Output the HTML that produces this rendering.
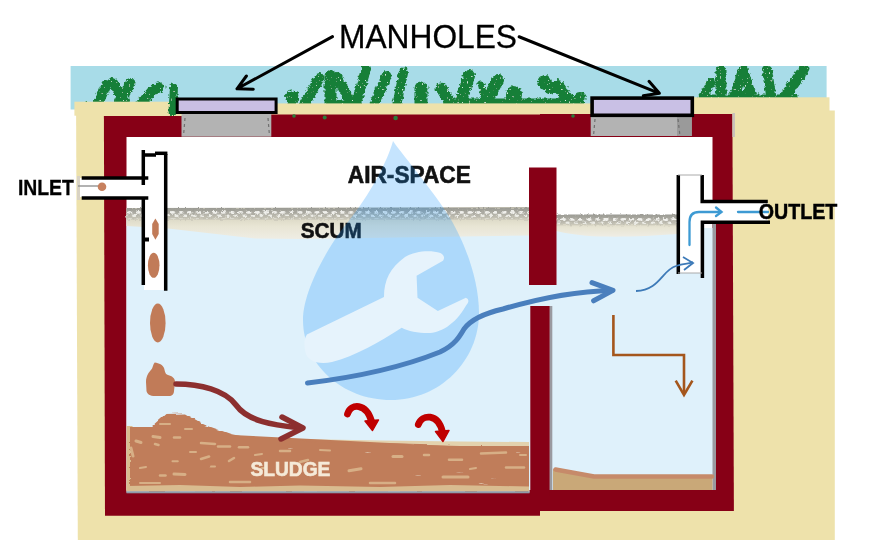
<!DOCTYPE html>
<html><head><meta charset="utf-8">
<style>
html,body{margin:0;padding:0;background:#fff;width:893px;height:540px;overflow:hidden}
svg{display:block;filter:blur(0.35px)}
text{font-family:"Liberation Sans",sans-serif}
</style></head><body>
<svg width="893" height="540" viewBox="0 0 893 540">
<defs>
<linearGradient id="scumL" x1="0" y1="0" x2="0" y2="1">
<stop offset="0" stop-color="#b8b6aa"/>
<stop offset="0.3" stop-color="#d9d6c3"/>
<stop offset="0.6" stop-color="#e8e5d4"/>
<stop offset="1" stop-color="#efede4"/>
</linearGradient>
<linearGradient id="scumband" x1="0" y1="0" x2="0" y2="1">
<stop offset="0" stop-color="#9c9c96"/>
<stop offset="0.6" stop-color="#a9a8a0"/>
<stop offset="1" stop-color="#bdbbb0"/>
</linearGradient>
<pattern id="ovals" width="8.5" height="7" patternUnits="userSpaceOnUse" x="0" y="211">
<ellipse cx="2.5" cy="1.4" rx="2.6" ry="1.35" fill="#f0f0ec"/>
<ellipse cx="6.8" cy="4.8" rx="2.4" ry="1.3" fill="#ecece6"/>
</pattern>
<linearGradient id="scumband2" x1="0" y1="0" x2="0" y2="1">
<stop offset="0" stop-color="#9a9a93"/>
<stop offset="0.35" stop-color="#aaa9a1"/>
<stop offset="0.75" stop-color="#bebcb0"/>
<stop offset="1" stop-color="#d3d0c0"/>
</linearGradient>
<pattern id="speck" width="7" height="6" patternUnits="userSpaceOnUse">
<circle cx="1.5" cy="1.5" r="0.9" fill="#b8e0c4"/>
<circle cx="5" cy="4.2" r="0.8" fill="#b8e0c4"/>
</pattern>
<pattern id="scumtex" width="9" height="6" patternUnits="userSpaceOnUse">
<ellipse cx="2.5" cy="2" rx="2" ry="1" fill="#f2f2ee"/>
<ellipse cx="7" cy="4.5" rx="1.8" ry="0.9" fill="#eeeeea"/>
</pattern>
<filter id="gfx" filterUnits="userSpaceOnUse" x="60" y="55" width="780" height="70">
<feTurbulence type="fractalNoise" baseFrequency="0.35" numOctaves="2" seed="4" result="n"/>
<feDisplacementMap in="SourceGraphic" in2="n" scale="5" xChannelSelector="R" yChannelSelector="G" result="d"/>
<feTurbulence type="fractalNoise" baseFrequency="0.55" numOctaves="1" seed="9" result="n2"/>
<feColorMatrix in="n2" type="matrix" values="0 0 0 0 0.68  0 0 0 0 0.86  0 0 0 0 0.74  12 0 0 0 -8.2" result="spots"/>
<feComposite in="spots" in2="d" operator="in" result="s2"/>
<feMerge><feMergeNode in="d"/><feMergeNode in="s2"/></feMerge>
</filter>
<filter id="scumfx" x="0" y="-20%" width="100%" height="140%">
<feTurbulence type="fractalNoise" baseFrequency="0.35 0.6" numOctaves="1" seed="2" result="n"/>
<feDisplacementMap in="SourceGraphic" in2="n" scale="3" xChannelSelector="R" yChannelSelector="G" result="d"/>
<feColorMatrix in="n" type="matrix" values="0 0 0 0 0.95  0 0 0 0 0.95  0 0 0 0 0.93  9 0 0 0 -5.2" result="spots"/>
<feComposite in="spots" in2="d" operator="in" result="s2"/>
<feMerge result="m"><feMergeNode in="d"/><feMergeNode in="s2"/></feMerge>
<feGaussianBlur in="m" stdDeviation="0.5"/>
</filter>
<filter id="sludgefx" x="-2%" y="-5%" width="104%" height="110%">
<feTurbulence type="fractalNoise" baseFrequency="0.04 0.35" numOctaves="2" seed="7" result="n"/>
<feDisplacementMap in="SourceGraphic" in2="n" scale="4" xChannelSelector="R" yChannelSelector="G" result="d"/>
<feColorMatrix in="n" type="matrix" values="0 0 0 0 0.89  0 0 0 0 0.78  0 0 0 0 0.6  12 0 0 0 -9.3" result="spots"/>
<feComposite in="spots" in2="d" operator="in" result="s2"/>
<feMerge><feMergeNode in="d"/><feMergeNode in="s2"/></feMerge>
</filter>
<clipPath id="chL"><rect x="126.5" y="137" width="402.5" height="355"/></clipPath>
<clipPath id="skyclip"><rect x="70" y="66" width="757" height="60"/></clipPath>
<filter id="scumfx2" filterUnits="userSpaceOnUse" x="120" y="200" width="570" height="35">
<feTurbulence type="fractalNoise" baseFrequency="0.4 0.5" numOctaves="2" seed="5" result="n"/>
<feDisplacementMap in="SourceGraphic" in2="n" scale="3.5" xChannelSelector="R" yChannelSelector="G" result="d"/>
<feGaussianBlur in="d" stdDeviation="0.45"/>
</filter>
</defs>
<!-- sky -->
<rect x="70.6" y="66" width="756" height="43.5" fill="#a8dce8"/>
<g id="grass">
<g id="gr" fill="none" stroke-linecap="round" stroke-linejoin="round">
<path d="M98 104 L106 85" stroke-width="10"/>
<path d="M113 83 L122 98 L130.5 83" stroke-width="10"/>
<path d="M118 101 L126 101" stroke-width="8"/>
<path d="M141 104 L152 91 L159.5 87" stroke-width="10"/>
<path d="M87 104 L88 104" stroke-width="4"/>
<path d="M291.5 97 L292 97" stroke-width="13"/>
<path d="M291.5 104 L292 104" stroke-width="10"/>
<path d="M304.5 104 L319.5 78" stroke-width="10"/>
<path d="M330.5 104 L330.5 76" stroke-width="12"/>
<path d="M337 77 L349 99" stroke-width="10"/>
<path d="M356 104 L366 69" stroke-width="10"/>
<path d="M338 104 L356 104" stroke-width="7"/>
<path d="M374.5 104 L386.5 76" stroke-width="10"/>
<path d="M397 104 L403.5 72" stroke-width="9"/>
<path d="M421 104 L421 88" stroke-width="13"/>
<path d="M441 88 L451 104" stroke-width="11"/>
<path d="M460 104 L469 76" stroke-width="12"/>
<path d="M485 104 L498 80" stroke-width="12"/>
<path d="M481 84 L485 100" stroke-width="7"/>
<path d="M462 102 L571 102" stroke-width="7"/>
<path d="M514 95 L514 94" stroke-width="16"/>
<path d="M544.5 82 L545 82.5" stroke-width="14"/>
<path d="M550 88 L558 86 L569 101" stroke-width="12"/>
<path d="M579.6 98 L579.7 98" stroke-width="12"/>
<path d="M579.6 103 L579.7 103" stroke-width="9"/>
<path d="M702 98 L711 82.5" stroke-width="9"/>
<path d="M721 71 L721 98" stroke-width="11"/>
<path d="M734 98 L743 70 L752 98" stroke-width="10"/>
<path d="M738 95 L748 95" stroke-width="8"/>
<path d="M767 70 L771.5 98" stroke-width="10"/>
<path d="M784 98 L804 69" stroke-width="11"/>
<path d="M700 97 L795 97" stroke-width="5"/>
</g>
</g>
<g clip-path="url(#skyclip)"><g filter="url(#gfx)"><use href="#gr" stroke="#197f38"/></g></g>
<!-- tan ground -->
<rect x="74.4" y="101.7" width="120" height="14" fill="#eee2ab"/>
<path d="M76.1 110.5 L834.8 110.5 L834.8 540 L77.8 540 Z" fill="#eee2ab"/>
<rect x="260" y="103.4" width="340" height="12" fill="#eee2ab"/>
<rect x="690" y="97.3" width="139.5" height="14" fill="#eee2ab"/>
<g filter="url(#gfx)"><path d="M174 87 L172.5 112" stroke-width="8" stroke="#197f38" fill="none" stroke-linecap="round"/></g>
<!-- red walls -->
<path d="M103.9 116 L540 116 L540 515.8 L105 515.8 Z" fill="#870016"/>
<path d="M540 114 L732.4 114 L733.9 511 L540 511 Z" fill="#870016"/>
<rect x="270" y="114.5" width="330" height="3" fill="#870016"/>
<g fill="#2a7d3a"><circle cx="294" cy="116" r="1.8"/><circle cx="324.7" cy="117.5" r="2"/><circle cx="395.6" cy="118" r="2.3"/><circle cx="573" cy="116" r="1.8"/><circle cx="210" cy="116" r="1.5"/></g>
<!-- interior air -->
<rect x="126.5" y="137" width="586" height="353" fill="#ffffff"/>
<!-- left chamber water -->
<rect x="126.5" y="215" width="403" height="277.5" fill="#dff1fb"/>
<!-- right chamber water -->
<rect x="529" y="228" width="186" height="262" fill="#dff1fb"/>
<!-- scum left -->
<path d="M126.5 208 L529 207 L529 235.5 L300 239 L255 238.5 L168 228.5 L126.5 226 Z" fill="url(#scumL)"/>
<g filter="url(#scumfx2)"><rect x="126.5" y="208" width="402.5" height="12" fill="url(#scumband2)"/>
<rect x="126.5" y="210.5" width="402.5" height="8" fill="url(#ovals)"/></g>
<!-- scum right -->
<path d="M556 215 L678 215 L678 234 C650 236 630 237 600 236.5 C580 236 565 233 556 231 Z" fill="url(#scumL)"/>
<g filter="url(#scumfx2)"><rect x="556" y="214.5" width="122" height="11" fill="url(#scumband2)"/>
<rect x="556" y="217" width="122" height="7.5" fill="url(#ovals)"/></g>
<!-- drop -->
<!-- partition -->
<rect x="529" y="167.5" width="27.5" height="117.5" fill="#870016"/>
<rect x="530.3" y="306" width="19.5" height="190" fill="#870016"/>
<rect x="549.8" y="306" width="2.5" height="184" fill="#9a9aa0"/>
<rect x="712.5" y="222" width="3.5" height="268" fill="#9a9aa0"/>
<!-- sludge left -->
<rect x="126.5" y="426" width="6" height="65" fill="#d9bc90"/>
<path d="M240 437 L300 439 L380 440.5 L460 441.5 L529 442 L529 452 L240 452 Z" fill="#e3d2ae"/>
<path d="M133 430 L529 450 L529 488 L133 488 Z" fill="#c07d5a"/>
<g clip-path="url(#chL)"><path d="M130 426 L151 427 L165.5 414 L185 413.5 L204 424.4 L230.6 434 L248 437.6 L300 441 L380 444 L460 446 L532 446 L532 491.3 L130 491.3 Z" fill="#c07d5a" filter="url(#sludgefx)"/></g>
<g stroke="#dcb88e" stroke-linecap="round" fill="none" clip-path="url(#chL)" opacity="0.85">
<path d="M153 436.5 L160 437.5" stroke-width="3"/>
<path d="M174 437.6 L180 437.6" stroke-width="2.5"/>
<path d="M201 443 L215 444" stroke-width="2.5"/>
<path d="M218 446.4 L230 446.4" stroke-width="2.5"/>
<path d="M239 447.3 L248 447.3" stroke-width="2.5"/>
<path d="M136 441 L141 442.5" stroke-width="3"/>
<path d="M155 444 L158.5 445" stroke-width="2.5"/>
<path d="M201 459 L209 456.5" stroke-width="2.5"/>
<path d="M229 461 L234 458" stroke-width="2.5"/>
<path d="M172.5 461.3 L177.8 461.3" stroke-width="2"/>
<path d="M211 466.5 L215 466.5" stroke-width="2"/>
<path d="M174 474 L185 474.5" stroke-width="3"/>
<path d="M160 475.5 L165.5 475.5" stroke-width="2.5"/>
<path d="M131 448 L133 456" stroke-width="3"/>
<path d="M190 452 L196 452" stroke-width="2"/>
<path d="M140 468 L146 467" stroke-width="2"/>
<path d="M255 455 L262 454" stroke-width="2"/>
<path d="M280 451 L290 451" stroke-width="2.5"/>
<path d="M300 462 L308 460" stroke-width="2.5"/>
<path d="M349 470.8 L361 468.8" stroke-width="3"/>
<path d="M393 456.6 L402 456.6" stroke-width="3"/>
<path d="M424 455 L429 455" stroke-width="2.5"/>
<path d="M449 459.8 L462 459.8" stroke-width="2.5"/>
<path d="M443 477 L468 477" stroke-width="3"/>
<path d="M481 453.5 L506 452.5" stroke-width="2.5"/>
<path d="M506 467.6 L524 467.6" stroke-width="2.5"/>
<path d="M320 450 L330 450.5" stroke-width="2"/>
<path d="M370 483 L395 483" stroke-width="2.5"/>
<path d="M230 482 L250 482" stroke-width="2.5"/>
<path d="M140 483 L160 483" stroke-width="2"/>
<path d="M470 469 L476 468" stroke-width="2"/>
<path d="M520 455 L526 455" stroke-width="2"/>
<path d="M262 468 L266 468" stroke-width="2"/>
<path d="M185 429 L192 429" stroke-width="2"/>
<path d="M160 424 L170 424" stroke-width="2"/>
</g>
<path d="M126.5 486 L180 485 L240 487 L300 485.5 L380 487 L450 485 L529 486.5 L529 491.3 L126.5 491.3 Z" fill="#d9bc90"/>
<rect x="126.5" y="491.3" width="403" height="2" fill="#8f9aa8"/>
<!-- right chamber floor -->
<path d="M553 469 L594 477 L712.5 477 L712.5 490 L553 490 Z" fill="#c9a878"/>
<path d="M555.5 469.5 L594 476.5 L712 476.5" stroke="#c68a6a" stroke-width="4.5" fill="none" stroke-linecap="round"/>
<!-- manhole necks -->
<rect x="181.5" y="114" width="89.8" height="22.7" fill="#b3b3b3"/>
<rect x="590.7" y="117" width="101" height="19" fill="#b3b3b3"/>
<rect x="677" y="117" width="14.7" height="19" fill="#9a9a9a"/>
<rect x="732.4" y="113" width="2.6" height="24" fill="#c9c2bb"/>
<g stroke="#6f6f6f" stroke-width="1.2" stroke-dasharray="3 3" fill="none">
<path d="M185 118 L183.5 136"/>
<path d="M268 118 L269.5 136"/>
<path d="M595 119 L593.5 136"/>
<path d="M678 119 L680 136"/>
</g>
<!-- lids -->
<rect x="177.2" y="99" width="98.9" height="13.5" fill="#c9bfe3" stroke="#000" stroke-width="3"/>
<rect x="592.1" y="98.1" width="100.2" height="17.2" fill="#c9c0e5" stroke="#000" stroke-width="3.6"/>
<!-- inlet pipe -->
<rect x="77.5" y="178" width="70" height="19" fill="#fff"/>
<rect x="77" y="176" width="3" height="24" fill="#d8d2c4"/>
<rect x="144" y="153" width="22" height="137" fill="#fff"/>
<g stroke="#000" stroke-width="3.5" fill="none">
<path d="M81.7 178 L148.3 178"/>
<path d="M81.7 198 L148.3 198"/>
<path d="M143.3 150 L143.3 185"/>
<path d="M143.3 197.5 L143.3 285"/>
<path d="M143.3 155 L156 155"/>
<path d="M155 153.3 L167.4 153.3"/>
<path d="M165.7 154 L165.7 290.7"/>
</g>
<path d="M78 186 L100 186" stroke="#999" stroke-width="1.5"/>
<circle cx="102" cy="186.7" r="4.3" fill="#c7805e"/>
<!-- falling solids -->
<g fill="#c17b58">
<path d="M155.4 218.5 L158.7 224 L158.7 234 L155.4 239.8 L152.2 234 L152.2 224 Z"/>
<ellipse cx="153.7" cy="265.3" rx="5.8" ry="12.5"/>
<ellipse cx="157.8" cy="323" rx="7.8" ry="19.5"/>
<path d="M154.7 362.5 C159 363 163 365 164 368 C165 371 165 374 168 375 C172 376 175 378 175 382 L174 391 C174 394 172 396 169 396 L155 396 C150 396 147 394 146.5 391 L146 382 C146 376 149 372 151 370 C153 368 153 364 154.7 362.5 Z"/>
</g>
<rect x="145" y="237.5" width="4" height="4" fill="#000"/>
<!-- outlet pipe -->
<rect x="680" y="177" width="22" height="96" fill="#fff"/>
<rect x="702" y="203" width="66" height="18" fill="#fff"/>
<g stroke="#000" stroke-width="3.5" fill="none">
<path d="M678.3 175 L678.3 274"/>
<path d="M702.2 175 L702.2 201.5 L767.8 201.5"/>
<path d="M702.4 278 L702.4 222.2 L770 222.2"/>
</g>
<path d="M678 175 L702 175 M678 273 L702 273" stroke="#aaa" stroke-width="1"/>
<g stroke="#3d9ad3" stroke-width="2.3" fill="none" stroke-linecap="round">
<path d="M689.5 245 L689.5 222 Q689.5 212 699 212 L721 212"/>
<path d="M716 207.5 L721.5 212 L716 216"/>
<path d="M738 212 L768 212"/>
</g>
<path d="M636 291 C660 290 662 270 676 266 C684 263 690 264 693 262" stroke="#3d7ab8" stroke-width="1.8" fill="none"/>
<path d="M683 257 L693 263 L684 270" stroke="#3d7ab8" stroke-width="1.8" fill="none"/>
<text x="347.8" y="182.5" font-size="23" font-weight="bold" fill="#111" stroke="#111" stroke-width="0.6" textLength="123" lengthAdjust="spacingAndGlyphs">AIR-SPACE</text>
<text x="300.8" y="237.9" font-size="22.5" font-weight="bold" fill="#111" stroke="#111" stroke-width="0.6" textLength="61" lengthAdjust="spacingAndGlyphs">SCUM</text>
<!-- drop -->
<path d="M393 141 C405 158 435 193 450 218 C465 243 479 280 479 313 C479 361 440 400 391 400 C342 400 303 364 303 320 C303 290 329 245 347 223 C370 195 388 160 393 141 Z" fill="#1e96fa" opacity="0.26"/>
<!-- wrench -->
<path d="M440.4 252.9 Q446 256 443 260.8 L416.6 275.8 L417.5 297.8 L437.8 311 L465.9 297.8 Q471 300 465.9 305.7 C455 325 440 333 428 333 C418 333 408 331 401.7 327.7 C380 342 355 356 332 362 C318 365 306 361 305 350 C304 344 304 339 306.9 334.4 L384 297 C384 280 390 268 405 257 C415 251 430 250 440.4 252.9 Z" fill="#e6f3fc"/>
<!-- blue flow arrow -->
<path d="M307.5 383 C350 378 400 368 440 352 C455 345 460 336 464 329 C472 318 490 312 503 309 C540 298 580 291 612 290.4" stroke="#4a7fbd" stroke-width="5" fill="none" stroke-linecap="round"/>
<path d="M592 282.6 L613 290.4 L593.6 300.8" stroke="#4a7fbd" stroke-width="5" fill="none" stroke-linecap="round" stroke-linejoin="round"/>
<!-- brown path arrow -->
<path d="M613.4 315 L613.4 355 L684 355 L684 394" stroke="#a4561c" stroke-width="2.6" fill="none"/>
<path d="M675.7 380.7 L684 395 L692.4 380.7" stroke="#a4561c" stroke-width="2.6" fill="none"/>
<!-- dark red arrow -->
<path d="M176 384 C200 384 225 390 236 405 C248 422 275 425 300 428" stroke="#8c2f2f" stroke-width="5.5" fill="none" stroke-linecap="round"/>
<path d="M282 417 L303 428 L281 439" stroke="#8c2f2f" stroke-width="5.5" fill="none" stroke-linecap="round" stroke-linejoin="round"/>
<!-- red curved arrows -->
<g stroke="#c00000" stroke-width="6.8" fill="none" stroke-linecap="round">
<path d="M347.5 414 C351 403 366 403 371.5 421"/>
<path d="M418.3 424.5 C422 414 438 413 442.5 432"/>
</g>
<g fill="#c00000" stroke="#c00000" stroke-width="1.5" stroke-linejoin="round">
<path d="M365 421 L378.5 420 L372.5 430.5 Z"/>
<path d="M435.5 431.5 L449 430.5 L443 441.5 Z"/>
</g>
<!-- texts -->
<text x="339" y="48.4" font-size="34" fill="#000" stroke="#000" stroke-width="0.3" textLength="178" lengthAdjust="spacingAndGlyphs">MANHOLES</text>
<text x="17.9" y="194.8" font-size="22.3" font-weight="bold" fill="#000" stroke="#000" stroke-width="0.3" textLength="56" lengthAdjust="spacingAndGlyphs">INLET</text>
<text x="758.7" y="218.7" font-size="22" font-weight="bold" fill="#000" stroke="#000" stroke-width="0.5" textLength="78.6" lengthAdjust="spacingAndGlyphs">OUTLET</text>
<text x="250.4" y="475.8" font-size="20" font-weight="bold" fill="#f5ead8" stroke="#f5ead8" stroke-width="0.6" textLength="80" lengthAdjust="spacingAndGlyphs">SLUDGE</text>
<!-- arrows manholes -->
<g stroke="#000" stroke-width="3" fill="none" stroke-linecap="round" stroke-linejoin="round">
<path d="M332.5 36.6 L237 88.8 M246.4 76 L237 88.8 L253.3 89.3"/>
<path d="M519.1 36.75 L659.4 93.3 M649 81.3 L659.4 93.3 L643.3 95.8"/>
</g>
</svg>
</body></html>
